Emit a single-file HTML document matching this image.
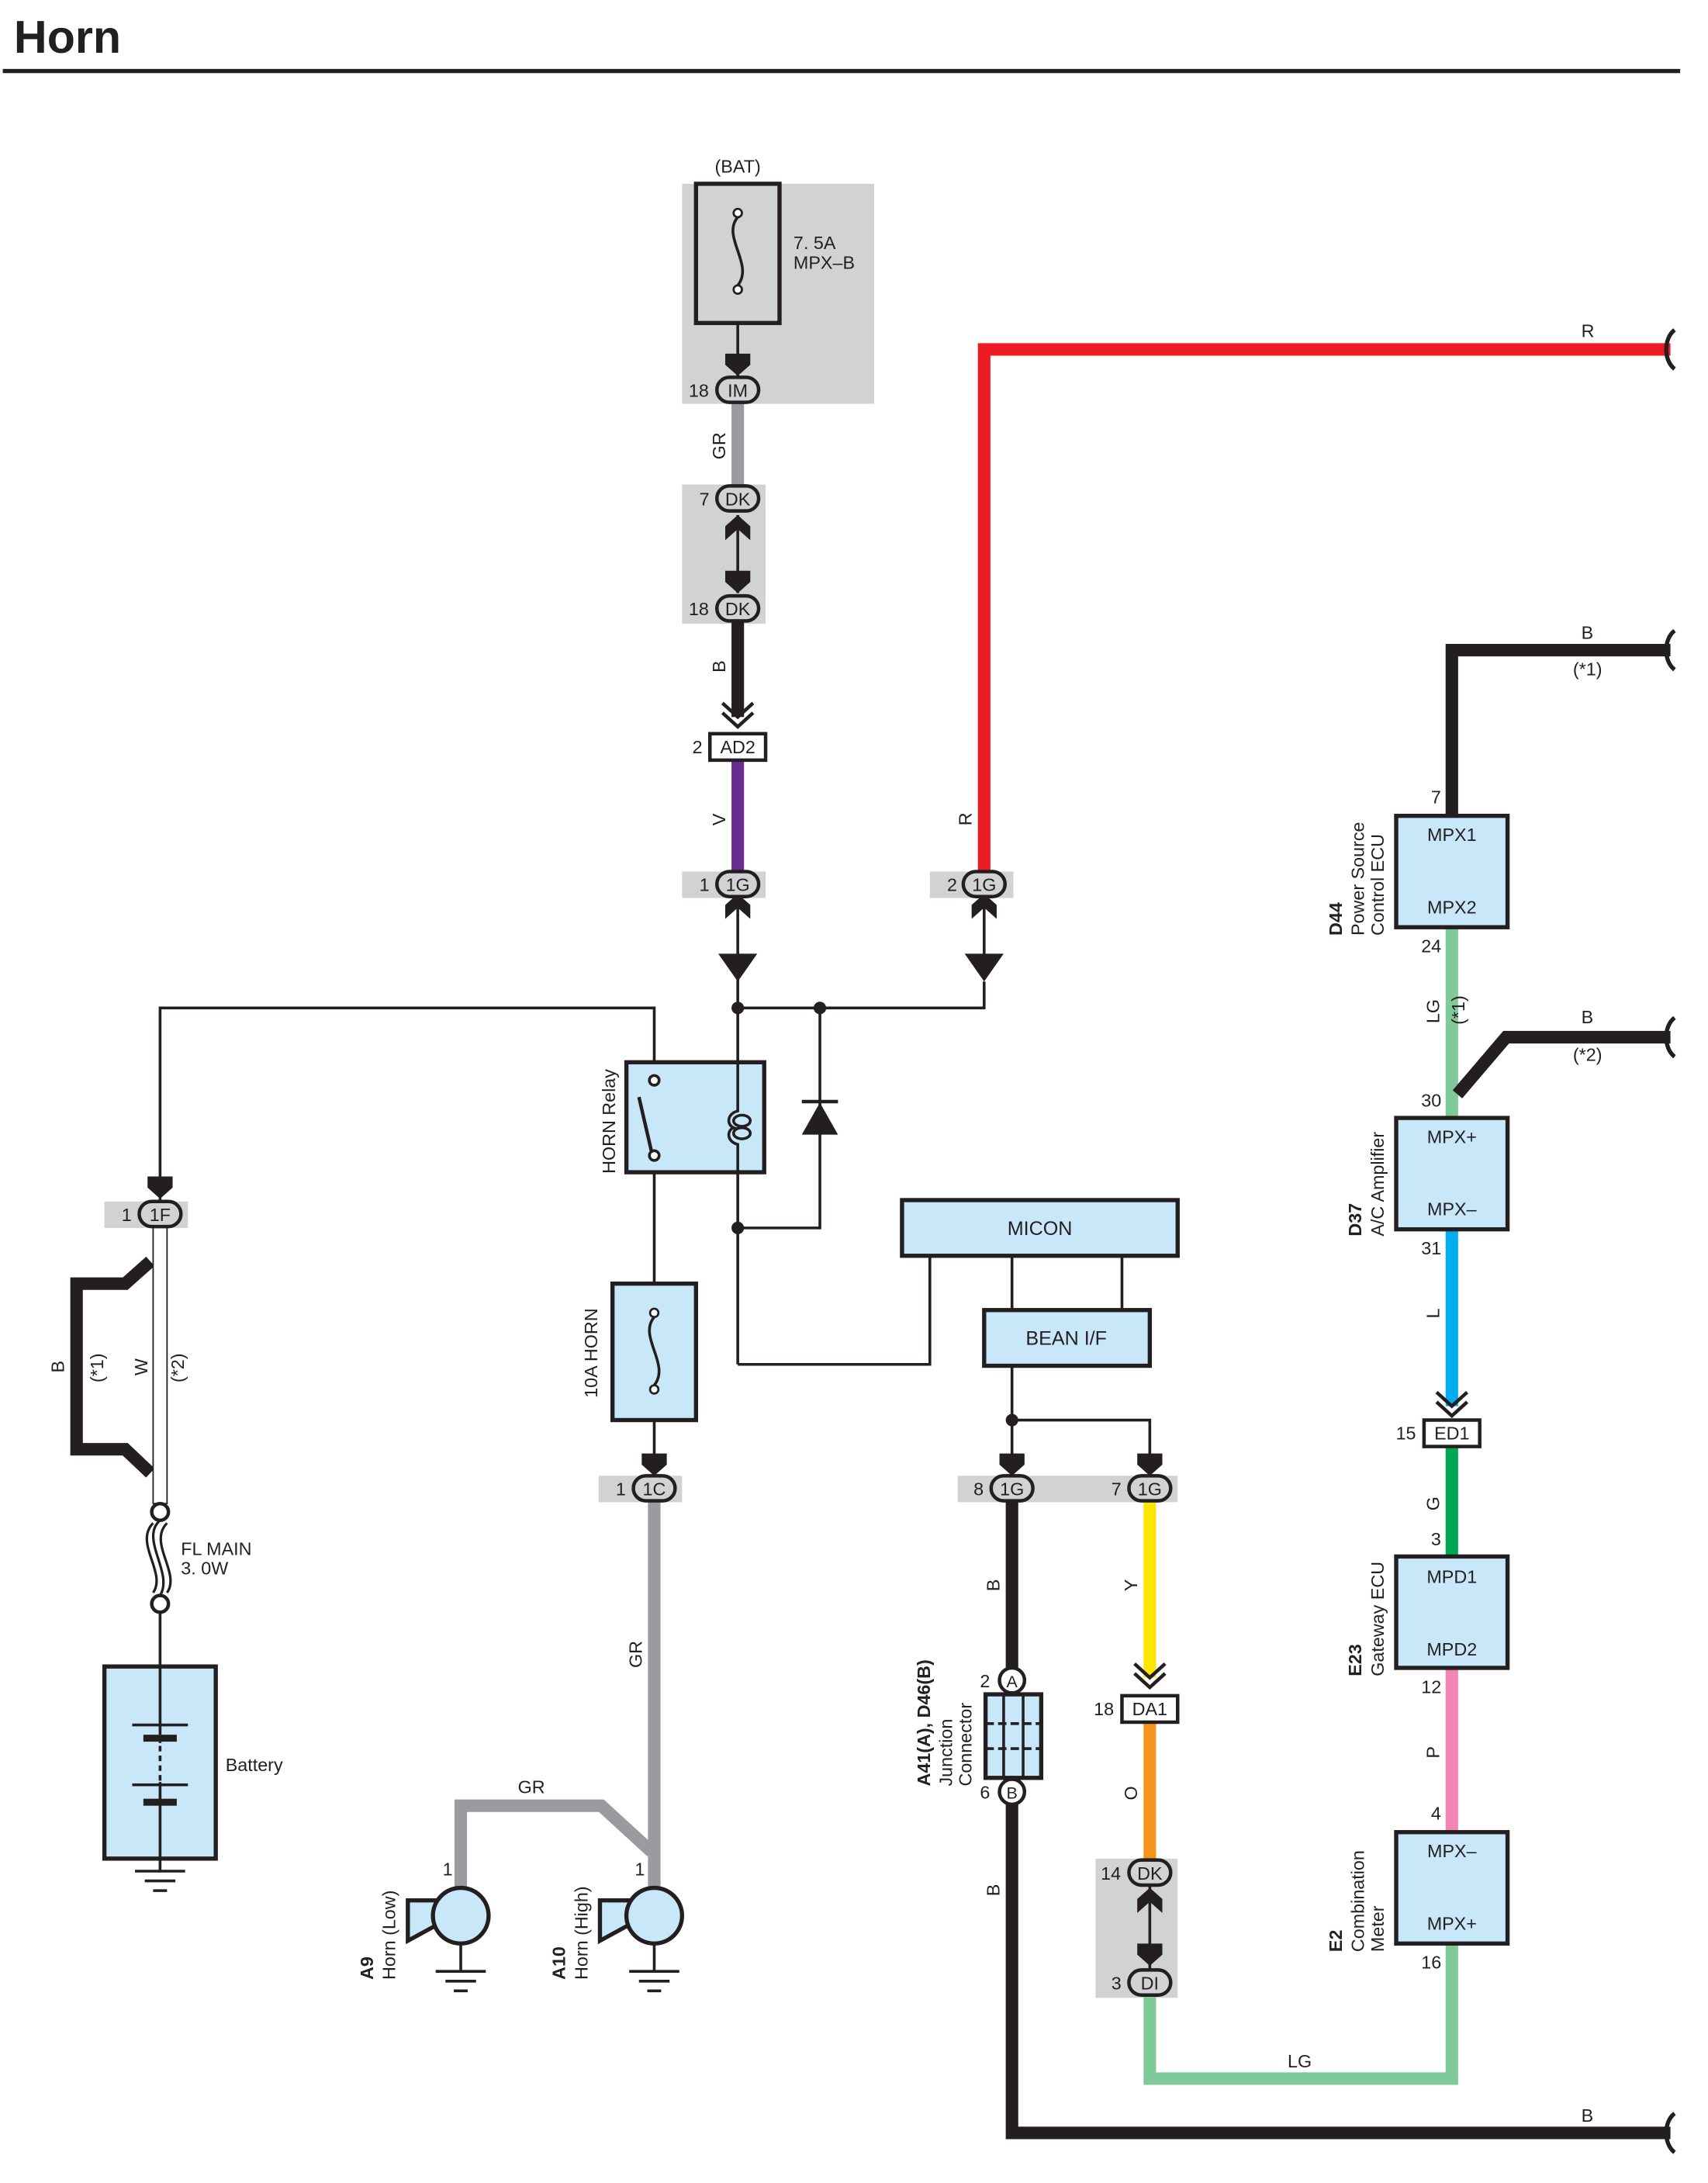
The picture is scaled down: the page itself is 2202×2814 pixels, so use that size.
<!DOCTYPE html>
<html><head><meta charset="utf-8"><style>
html,body{margin:0;padding:0;background:#fff}
svg{display:block}
text{font-family:"Liberation Sans",sans-serif;fill:#231f20}
</style></head><body>
<svg width="2202" height="2814" viewBox="0 0 1227 1568" preserveAspectRatio="none" xmlns="http://www.w3.org/2000/svg">
<defs>
<g id="pill"><rect x="-15" y="-9" width="30" height="18" rx="9" fill="#d1d2d4" stroke="#231f20" stroke-width="2.5"/></g>
<g id="gnd" stroke="#231f20" stroke-width="2"><line x1="-18" y1="0" x2="18" y2="0"/><line x1="-11" y1="7" x2="11" y2="7"/><line x1="-5" y1="14" x2="5" y2="14"/></g>
<g id="wave"><path d="M0,-14 C-8,-8 -8,8 0,14" fill="none" stroke="#231f20" stroke-width="3"/></g>
</defs>
<text x="10" y="38" font-size="33" font-weight="bold">Horn</text>
<line x1="2" y1="51" x2="1207" y2="51" stroke="#231f20" stroke-width="3"/>

<!-- grey backgrounds -->
<g fill="#d1d2d4">
<rect x="490" y="132" width="138" height="158"/>
<rect x="490" y="348" width="60" height="100"/>
<rect x="490" y="626" width="60" height="19"/>
<rect x="668" y="626" width="60" height="19"/>
<rect x="75" y="863" width="60" height="19"/>
<rect x="430" y="1060" width="60" height="19"/>
<rect x="688" y="1060" width="158" height="19"/>
<rect x="787" y="1335" width="59" height="100"/>
</g>

<!-- thick wires -->
<g fill="none" stroke-linejoin="miter" stroke-width="9">
<line x1="530" y1="288" x2="530" y2="350" stroke="#999b9e"/>
<line x1="530" y1="446" x2="530" y2="515" stroke="#231f20"/>
<line x1="530" y1="546" x2="530" y2="626" stroke="#6a2c91"/>
<polyline points="707,626 707,251 1200,251" stroke="#ed1c24"/>
<polyline points="1043,586 1043,467 1200,467" stroke="#231f20"/>
<line x1="1043" y1="666" x2="1043" y2="803" stroke="#7fc99a"/>
<polyline points="1047,786 1082,745 1200,745" stroke="#231f20"/>
<line x1="1043" y1="883" x2="1043" y2="1010" stroke="#00aeef"/>
<line x1="1043" y1="1040" x2="1043" y2="1118" stroke="#00a651"/>
<line x1="1043" y1="1198" x2="1043" y2="1316" stroke="#f386b0"/>
<polyline points="1043,1396 1043,1493 826,1493 826,1433" stroke="#7fc99a"/>
<line x1="826" y1="1078" x2="826" y2="1205" stroke="#ffe600"/>
<line x1="826" y1="1237" x2="826" y2="1337" stroke="#f7941d"/>
<polyline points="727,1078 727,1207" stroke="#231f20"/>
<polyline points="727,1290 727,1532 1200,1532" stroke="#231f20"/>
<line x1="470" y1="1078" x2="470" y2="1358" stroke="#999b9e"/>
<polyline points="331,1358 331,1297 432,1297 468,1330" stroke="#999b9e"/>
<polyline points="108,906 90,922 55,922 55,1041 90,1041 108,1058" stroke="#231f20"/>
</g>
<!-- W wire -->
<rect x="110" y="880" width="10" height="200" fill="#fff" stroke="#231f20" stroke-width="1"/>

<!-- wavy ends -->
<use href="#wave" x="1203" y="251"/><use href="#wave" x="1203" y="467"/><use href="#wave" x="1203" y="745"/><use href="#wave" x="1203" y="1532"/>

<!-- thin wires -->
<g fill="none" stroke="#231f20" stroke-width="2">
<polyline points="115,862 115,724 470,724 470,775"/>
<line x1="530" y1="650" x2="530" y2="980"/>
<polyline points="530,724 707,724 707,705"/>
<line x1="707" y1="650" x2="707" y2="690"/>
<polyline points="589,724 589,882 530,882"/>
<polyline points="530,980 668,980 668,902"/>
<line x1="727" y1="902" x2="727" y2="941"/>
<line x1="806" y1="902" x2="806" y2="941"/>
<polyline points="727,981 727,1060"/>
<polyline points="727,1020 826,1020 826,1060"/>
<line x1="470" y1="830" x2="470" y2="1060"/>
<line x1="115" y1="1150" x2="115" y2="1345"/>
<line x1="530" y1="232" x2="530" y2="270"/>
<line x1="530" y1="370" x2="530" y2="426"/>
<line x1="826" y1="1355" x2="826" y2="1414"/>
</g>
<g fill="#231f20">
<circle cx="530" cy="724" r="4.5"/><circle cx="589" cy="724" r="4.5"/><circle cx="530" cy="882" r="4.5"/><circle cx="727" cy="1020" r="4.5"/>
<polygon points="516,685 544,685 530,705"/><polygon points="693,685 721,685 707,705"/>
<polygon points="576,815 602,815 589,792"/><rect x="576" y="790" width="26" height="2.5"/>
<!-- arrow heads -->
<polygon points="521,254 539,254 539,262 530,270 521,262"/>
<polygon points="521,650 530,642 539,650 539,660 530,652 521,660"/>
<polygon points="698,650 707,642 716,650 716,660 707,652 698,660"/>
<polygon points="521,378 530,370 539,378 539,388 530,380 521,388"/>
<polygon points="521,410 539,410 539,418 530,426 521,418"/>
<polygon points="106,845 124,845 124,853 115,861 106,853"/>
<polygon points="461,1044 479,1044 479,1052 470,1060 461,1052"/>
<polygon points="718,1044 736,1044 736,1052 727,1060 718,1052"/>
<polygon points="817,1044 835,1044 835,1052 826,1060 817,1052"/>
<polygon points="817,1364 826,1356 835,1364 835,1374 826,1366 817,1374"/>
<polygon points="817,1396 835,1396 835,1404 826,1412 817,1404"/>
</g>
<g fill="none" stroke="#231f20" stroke-width="2.5">
<polyline points="519,505 530,515 541,505"/><polyline points="519,512 530,522 541,512"/>
<polyline points="1032,1000 1043,1010 1054,1000"/><polyline points="1032,1007 1043,1017 1054,1007"/>
<polyline points="815,1195 826,1205 837,1195"/><polyline points="815,1202 826,1212 837,1202"/>
</g>

<!-- BAT fuse -->
<rect x="500" y="132" width="60" height="100" fill="#d1d2d4" stroke="#231f20" stroke-width="3"/>
<circle cx="530" cy="153" r="3" fill="#fff" stroke="#231f20" stroke-width="1.5"/><circle cx="530" cy="208" r="3" fill="#fff" stroke="#231f20" stroke-width="1.5"/>
<path d="M530,156 C518,170 542,190 530,205" fill="none" stroke="#231f20" stroke-width="2"/>
<text x="530" y="124" font-size="13" text-anchor="middle">(BAT)</text>
<text x="570" y="179" font-size="13">7. 5A</text><text x="570" y="193" font-size="13">MPX–B</text>

<!-- connectors -->
<g font-size="13" text-anchor="middle">
<use href="#pill" x="530" y="280"/><text x="530" y="285">IM</text><text x="502" y="285">18</text>
<use href="#pill" x="530" y="358"/><text x="530" y="363">DK</text><text x="506" y="363">7</text>
<use href="#pill" x="530" y="437"/><text x="530" y="442">DK</text><text x="502" y="442">18</text>
<use href="#pill" x="530" y="635"/><text x="530" y="640">1G</text><text x="506" y="640">1</text>
<use href="#pill" x="707" y="635"/><text x="707" y="640">1G</text><text x="684" y="640">2</text>
<use href="#pill" x="115" y="872"/><text x="115" y="877">1F</text><text x="91" y="877">1</text>
<use href="#pill" x="470" y="1069"/><text x="470" y="1074">1C</text><text x="446" y="1074">1</text>
<use href="#pill" x="727" y="1069"/><text x="727" y="1074">1G</text><text x="703" y="1074">8</text>
<use href="#pill" x="826" y="1069"/><text x="826" y="1074">1G</text><text x="802" y="1074">7</text>
<use href="#pill" x="826" y="1345"/><text x="826" y="1350">DK</text><text x="798" y="1350">14</text>
<use href="#pill" x="826" y="1424"/><text x="826" y="1429">DI</text><text x="802" y="1429">3</text>
<rect x="510" y="527" width="40" height="19" fill="#fff" stroke="#231f20" stroke-width="2.5"/><text x="530" y="541">AD2</text><text x="501" y="541">2</text>
<rect x="1023" y="1020" width="40" height="19" fill="#fff" stroke="#231f20" stroke-width="2.5"/><text x="1043" y="1034">ED1</text><text x="1010" y="1034">15</text>
<rect x="806" y="1218" width="40" height="19" fill="#fff" stroke="#231f20" stroke-width="2.5"/><text x="826" y="1232">DA1</text><text x="793" y="1232">18</text>
</g>

<!-- wire labels -->
<g font-size="13">
<text x="1136" y="242">R</text><text x="1136" y="459">B</text><text x="1130" y="485">(*1)</text>
<text x="1136" y="735">B</text><text x="1130" y="762">(*2)</text>
<text x="1136" y="1524">B</text><text x="925" y="1485">LG</text><text x="372" y="1288">GR</text>
<text x="1028" y="577">7</text><text x="1021" y="684">24</text><text x="1021" y="795">30</text><text x="1021" y="901">31</text>
<text x="1028" y="1110">3</text><text x="1021" y="1216">12</text><text x="1028" y="1307">4</text><text x="1021" y="1414">16</text>
<text x="704" y="1212">2</text><text x="704" y="1292">6</text>
<text x="318" y="1347">1</text><text x="456" y="1347">1</text>
<text x="130" y="1117">FL MAIN</text><text x="130" y="1131">3. 0W</text>
<text x="162" y="1272">Battery</text>
</g>
<g font-size="13">
<text transform="translate(521,330) rotate(-90)">GR</text>
<text transform="translate(521,483) rotate(-90)">B</text>
<text transform="translate(521,593) rotate(-90)">V</text>
<text transform="translate(698,593) rotate(-90)">R</text>
<text transform="translate(1034,735) rotate(-90)">LG</text>
<text transform="translate(1052,736) rotate(-90)">(*1)</text>
<text transform="translate(1034,947) rotate(-90)">L</text>
<text transform="translate(1034,1085) rotate(-90)">G</text>
<text transform="translate(1034,1263) rotate(-90)">P</text>
<text transform="translate(817,1143) rotate(-90)">Y</text>
<text transform="translate(817,1293) rotate(-90)">O</text>
<text transform="translate(718,1143) rotate(-90)">B</text>
<text transform="translate(718,1362) rotate(-90)">B</text>
<text transform="translate(461,1198) rotate(-90)">GR</text>
<text transform="translate(46,986) rotate(-90)">B</text>
<text transform="translate(74,993) rotate(-90)">(*1)</text>
<text transform="translate(106,988) rotate(-90)">W</text>
<text transform="translate(132,993) rotate(-90)">(*2)</text>
<text transform="translate(442,843) rotate(-90)">HORN Relay</text>
<text transform="translate(429,1004) rotate(-90)">10A HORN</text>
</g>

<!-- relay -->
<rect x="450" y="763" width="99" height="79" fill="#c8e8f9" stroke="#231f20" stroke-width="3"/>
<circle cx="470" cy="776" r="3.5" fill="#fff" stroke="#231f20" stroke-width="2"/>
<circle cx="470" cy="830" r="3.5" fill="#fff" stroke="#231f20" stroke-width="2"/>
<line x1="459" y1="788" x2="468" y2="827" stroke="#231f20" stroke-width="2.5"/>
<path d="M530,763 V798 C522,800 522,808 527,810 C522,812 522,820 530,822 V842" fill="none" stroke="#231f20" stroke-width="2"/>
<ellipse cx="533" cy="805" rx="6" ry="4" fill="none" stroke="#231f20" stroke-width="2"/><ellipse cx="533" cy="814" rx="6" ry="4" fill="none" stroke="#231f20" stroke-width="2"/>

<!-- 10A fuse -->
<rect x="440" y="922" width="60" height="98" fill="#c8e8f9" stroke="#231f20" stroke-width="3"/>
<circle cx="470" cy="943" r="3" fill="#fff" stroke="#231f20" stroke-width="1.5"/><circle cx="470" cy="998" r="3" fill="#fff" stroke="#231f20" stroke-width="1.5"/>
<path d="M470,946 C458,960 482,980 470,995" fill="none" stroke="#231f20" stroke-width="2"/>

<!-- MICON / BEAN -->
<rect x="648" y="862" width="198" height="40" fill="#c8e8f9" stroke="#231f20" stroke-width="3"/>
<text x="747" y="887" font-size="14" text-anchor="middle">MICON</text>
<rect x="707" y="941" width="119" height="40" fill="#c8e8f9" stroke="#231f20" stroke-width="3"/>
<text x="766" y="966" font-size="14" text-anchor="middle">BEAN I/F</text>

<!-- right ECUs -->
<g font-size="13" text-anchor="middle">
<rect x="1003" y="586" width="80" height="80" fill="#c8e8f9" stroke="#231f20" stroke-width="3"/><text x="1043" y="604">MPX1</text><text x="1043" y="656">MPX2</text>
<rect x="1003" y="803" width="80" height="80" fill="#c8e8f9" stroke="#231f20" stroke-width="3"/><text x="1043" y="821">MPX+</text><text x="1043" y="873">MPX–</text>
<rect x="1003" y="1118" width="80" height="80" fill="#c8e8f9" stroke="#231f20" stroke-width="3"/><text x="1043" y="1137">MPD1</text><text x="1043" y="1189">MPD2</text>
<rect x="1003" y="1316" width="80" height="80" fill="#c8e8f9" stroke="#231f20" stroke-width="3"/><text x="1043" y="1334">MPX–</text><text x="1043" y="1386">MPX+</text>
</g>
<g font-size="13">
<text transform="translate(964,672) rotate(-90)" font-weight="bold">D44</text>
<text transform="translate(980,672) rotate(-90)">Power Source</text>
<text transform="translate(994,672) rotate(-90)">Control ECU</text>
<text transform="translate(978,888) rotate(-90)" font-weight="bold">D37</text>
<text transform="translate(994,888) rotate(-90)">A/C Amplifier</text>
<text transform="translate(978,1204) rotate(-90)" font-weight="bold">E23</text>
<text transform="translate(994,1204) rotate(-90)">Gateway ECU</text>
<text transform="translate(964,1402) rotate(-90)" font-weight="bold">E2</text>
<text transform="translate(980,1402) rotate(-90)">Combination</text>
<text transform="translate(994,1402) rotate(-90)">Meter</text>
<text transform="translate(668,1283) rotate(-90)" font-weight="bold">A41(A), D46(B)</text>
<text transform="translate(684,1283) rotate(-90)">Junction</text>
<text transform="translate(698,1283) rotate(-90)">Connector</text>
<text transform="translate(268,1422) rotate(-90)" font-weight="bold">A9</text>
<text transform="translate(284,1422) rotate(-90)">Horn (Low)</text>
<text transform="translate(406,1422) rotate(-90)" font-weight="bold">A10</text>
<text transform="translate(422,1422) rotate(-90)">Horn (High)</text>
</g>

<!-- junction connector -->
<rect x="708" y="1217" width="40" height="60" fill="#c8e8f9" stroke="#231f20" stroke-width="3"/>
<g stroke="#231f20" stroke-width="2"><line x1="708" y1="1238" x2="748" y2="1238" stroke-dasharray="6,3"/><line x1="708" y1="1256" x2="748" y2="1256" stroke-dasharray="6,3"/><line x1="721" y1="1217" x2="721" y2="1277"/><line x1="735" y1="1217" x2="735" y2="1277"/></g>
<circle cx="727" cy="1207" r="9" fill="#fff" stroke="#231f20" stroke-width="2.5"/><text x="727" y="1212" font-size="12" text-anchor="middle">A</text>
<circle cx="727" cy="1287" r="9" fill="#fff" stroke="#231f20" stroke-width="2.5"/><text x="727" y="1292" font-size="12" text-anchor="middle">B</text>

<!-- FL main -->
<circle cx="115" cy="1086" r="6" fill="#fff" stroke="#231f20" stroke-width="2.5"/>
<circle cx="115" cy="1152" r="6" fill="#fff" stroke="#231f20" stroke-width="2.5"/>
<path d="M115,1092 C100,1105 125,1130 115,1146 M110,1094 C96,1108 120,1130 110,1144 M120,1094 C106,1108 130,1130 120,1144" fill="none" stroke="#231f20" stroke-width="1.8"/>

<!-- battery -->
<rect x="75" y="1197" width="80" height="138" fill="#c8e8f9" stroke="#231f20" stroke-width="3"/>
<line x1="115" y1="1197" x2="115" y2="1335" stroke="#231f20" stroke-width="2"/>
<rect x="95" y="1238" width="40" height="2" fill="#231f20"/><rect x="102" y="1246" width="26" height="5" fill="#c8e8f9"/><rect x="103" y="1246" width="24" height="5" fill="#231f20"/>
<rect x="95" y="1281" width="40" height="2" fill="#231f20"/><rect x="103" y="1292" width="24" height="5" fill="#231f20"/>
<rect x="110" y="1252" width="10" height="28" fill="#c8e8f9"/><line x1="115" y1="1254" x2="115" y2="1280" stroke="#231f20" stroke-width="2" stroke-dasharray="4,3"/>
<use href="#gnd" x="115" y="1344"/>

<!-- horns -->
<g fill="#c8e8f9" stroke="#231f20" stroke-width="3">
<polygon points="293,1365 315,1365 315,1382 293,1394"/>
<circle cx="331" cy="1376" r="20"/>
<polygon points="431,1365 453,1365 453,1382 431,1394"/>
<circle cx="470" cy="1376" r="20"/>
</g>
<line x1="331" y1="1396" x2="331" y2="1416" stroke="#231f20" stroke-width="2"/><use href="#gnd" x="331" y="1416"/>
<line x1="470" y1="1396" x2="470" y2="1416" stroke="#231f20" stroke-width="2"/><use href="#gnd" x="470" y="1416"/>
</svg>
</body></html>
